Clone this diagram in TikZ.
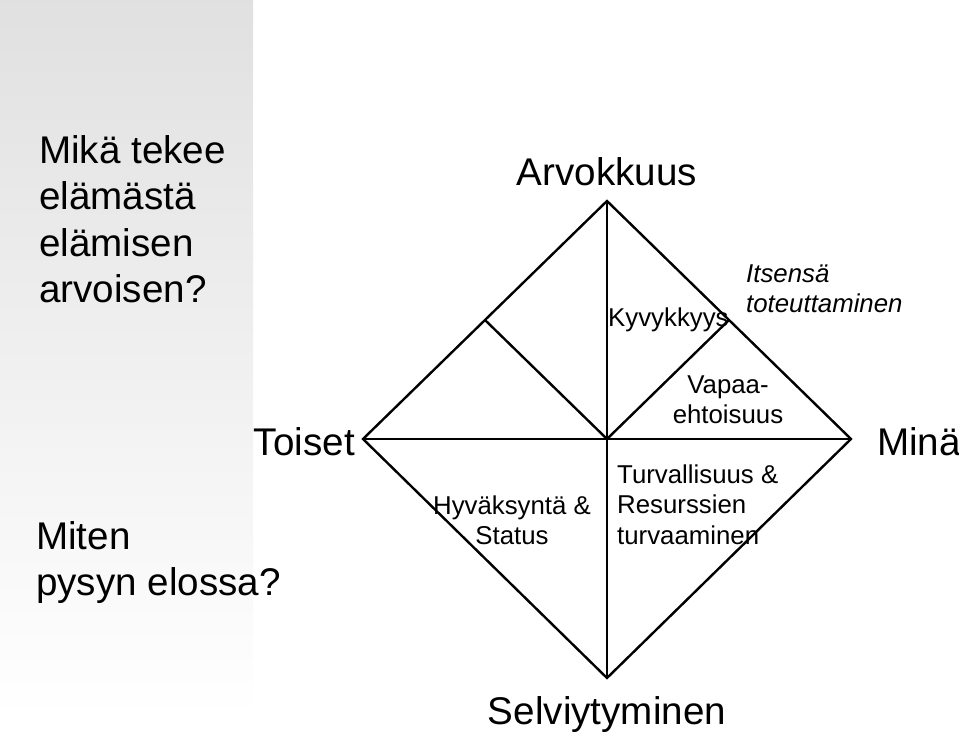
\documentclass[tikz,border=0pt]{standalone}
\usepackage{fontspec}
\setmainfont{Liberation Sans}
\usepackage{tikz}
\usetikzlibrary{positioning,calc}

\begin{document}
\begin{tikzpicture}[x=1pt, y=-1pt, line width=2.4pt,
  big/.style={inner sep=0pt, font=\fontsize{38.6}{46.3}\selectfont},
  small/.style={inner sep=0pt, font=\fontsize{25.8}{30.5}\selectfont}]
 \useasboundingbox (0,0) rectangle (959,735);
 % grey side panel
 \shade[top color=black!12, middle color=black!9, bottom color=white] (0,0) rectangle (253,717);
 % diamond corners
 \coordinate (C) at (607,439);
 \coordinate (T) at (607,201);
 \coordinate (B) at (607,678);
 \coordinate (L) at (363,439);
 \coordinate (R) at (851,439);
 \coordinate (TL) at ($(T)!.5!(L)$);
 \coordinate (TR) at ($(T)!.5!(R)$);
 \draw[line join=miter] (T) -- (R) -- (B) -- (L) -- cycle;
 \draw (T) -- (B);
 \draw (L) -- (R);
 \draw (TL) -- (C) -- (TR);
 % corner labels
 \node[big, anchor=base] (arvo) at (607,186) {Arvokkuus};
 \node[big, anchor=base] (selv) at (607,724) {Selviytyminen};
 \node[big, anchor=base east] (toiset) at (356,455) {Toiset};
 \node[big, anchor=base west] (mina) at (876,455) {Minä};
 % questions
 \node[big, anchor=north west, align=left] (q1) at (38,134.4) {Mikä tekee\\elämästä\\elämisen\\arvoisen?};
 \node[big, anchor=north west, align=left] (q2) at (35,520.4) {Miten\\pysyn elossa?};
 % inner labels
 \node[small, anchor=base west] (kyky) at (607,327) {Kyvykkyys};
 \node[small, anchor=north west, align=left, font=\fontsize{25.8}{30.5}\selectfont\itshape] (itse) at (745,263.5) {Itsensä\\toteuttaminen};
 \node[small, anchor=north, align=center] (vapaa) at (728,374.5) {Vapaa-\\ehtoisuus};
 \node[small, anchor=north west, align=left] (turva) at (616,463.5) {Turvallisuus \&\\Resurssien\\turvaaminen};
 \node[small, anchor=north, align=center] (hyva) at (512,494.5) {Hyväksyntä \&\\Status};
\end{tikzpicture}
\end{document}
